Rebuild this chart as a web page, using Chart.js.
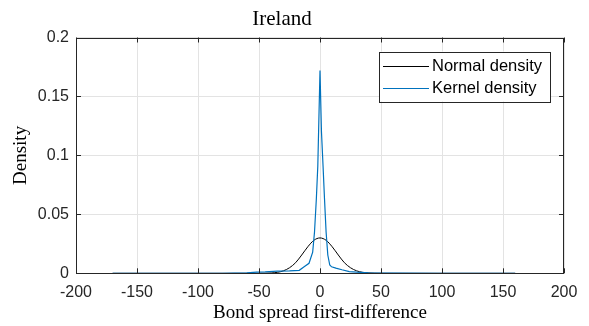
<!DOCTYPE html>
<html>
<head>
<meta charset="utf-8">
<script src="https://cdn.jsdelivr.net/npm/chart.js@4/dist/chart.umd.min.js"></script>
<style>
  html, body { margin: 0; padding: 0; background: #fff; }
  #wrap { width: 589px; height: 326px; }
</style>
</head>
<body>
<div id="wrap"><canvas id="chart" width="589" height="326"></canvas></div>
<script>
// values
const normalX = [-170, -100, -60, -50, -45, -40, -35, -30, -25, -20, -15, -10, -5, 0, 5, 10, 15, 20, 25, 30, 35, 40, 45, 50, 60, 100, 160];
const normalY = [0, 0, 0, 0.00003, 0.0001, 0.0003, 0.0008, 0.0021, 0.0047, 0.009, 0.0155, 0.0225, 0.028, 0.030, 0.028, 0.0225, 0.0155, 0.009, 0.0047, 0.0021, 0.0008, 0.0003, 0.0001, 0.00003, 0, 0, 0];

const kernelX = [-170, -120, -80, -60, -52, -45, -35, -25, -17, -13, -9, -6, -4.5, -3, -1.8, 0, 1.2, 2.5, 3.7, 5, 6.4, 8, 9.5, 13, 18, 24, 30, 40, 60, 100, 160];
const kernelY = [0, 0, 0, 0.0003, 0.001, 0.0012, 0.0018, 0.002, 0.0025, 0.0055, 0.0085, 0.018, 0.035, 0.063, 0.091, 0.172, 0.12, 0.091, 0.063, 0.035, 0.0155, 0.007, 0.0055, 0.0044, 0.003, 0.0015, 0.001, 0.0004, 0.0001, 0, 0];

const xTicks = { min: -200, max: 200, step: 50 };
const yTicks = { min: 0, max: 0.2, step: 0.05 };

const axisColor = '#262626';
const serif = '"Liberation Serif", "DejaVu Serif", serif';
const sans = '"Liberation Sans", Arial, sans-serif';

function toPoints(xs, ys) {
    return xs.map((x, i) => ({ x: x, y: ys[i] }));
}

// box around the axes with inward ticks, MATLAB style
const boxPlugin = {
    id: 'box',
    afterDatasetsDraw(chart) {
        const { ctx, chartArea: a, scales } = chart;
        ctx.save();
        ctx.strokeStyle = axisColor;
        ctx.lineWidth = 1;
        const tl = 5;
        ctx.beginPath();
        scales.x.ticks.forEach(t => {
            const px = Math.round(scales.x.getPixelForValue(t.value)) + 0.5;
            ctx.moveTo(px, a.bottom); ctx.lineTo(px, a.bottom - tl);
            ctx.moveTo(px, a.top); ctx.lineTo(px, a.top + tl);
        });
        scales.y.ticks.forEach(t => {
            const py = Math.round(scales.y.getPixelForValue(t.value)) + 0.5;
            ctx.moveTo(a.left, py); ctx.lineTo(a.left + tl, py);
            ctx.moveTo(a.right, py); ctx.lineTo(a.right - tl, py);
        });
        ctx.stroke();
        ctx.strokeRect(Math.round(a.left) + 0.5, Math.round(a.top) + 0.5,
            Math.round(a.right - a.left) - 1, Math.round(a.bottom - a.top) - 1);
        ctx.restore();
    },
    afterDraw(chart) {
        // legend inside the plot, upper right
        const { ctx, chartArea: a } = chart;
        const w = 171, h = 50;
        const x0 = a.right - 14 - w, y0 = a.top + 14;
        ctx.save();
        ctx.fillStyle = '#fff';
        ctx.fillRect(x0, y0, w, h);
        ctx.strokeStyle = axisColor;
        ctx.lineWidth = 1;
        ctx.strokeRect(Math.round(x0) + 0.5, Math.round(y0) + 0.5, w, h);
        ctx.font = '16.5px ' + sans;
        ctx.textBaseline = 'middle';
        chart.data.datasets.forEach((ds, i) => {
            const cy = Math.round(y0 + 14 + i * 22) + 0.5;
            ctx.strokeStyle = ds.borderColor;
            ctx.beginPath();
            ctx.moveTo(x0 + 4, cy);
            ctx.lineTo(x0 + 50, cy);
            ctx.stroke();
            ctx.fillStyle = '#000';
            ctx.fillText(ds.label, x0 + 53, cy);
        });
        ctx.restore();
    }
};

new Chart(document.getElementById('chart'), {
    type: 'scatter',
    data: {
        datasets: [{
            label: 'Normal density',
            data: toPoints(normalX, normalY),
            showLine: true,
            cubicInterpolationMode: 'monotone',
            borderColor: '#000000',
            borderWidth: 1,
            pointRadius: 0,
            order: 2
        }, {
            label: 'Kernel density',
            data: toPoints(kernelX, kernelY),
            showLine: true,
            borderColor: '#0072BD',
            borderWidth: 1.2,
            pointRadius: 0,
            order: 1
        }]
    },
    options: {
        responsive: false,
        animation: false,
        layout: { padding: { left: 0, right: 25, top: 0, bottom: 0 } },
        plugins: {
            legend: { display: false },
            tooltip: { enabled: false },
            title: {
                display: true,
                text: 'Ireland',
                color: '#000',
                font: { family: serif, size: 21, weight: 'normal' },
                padding: { top: 7, bottom: 5.3 }
            }
        },
        scales: {
            x: {
                type: 'linear',
                min: xTicks.min,
                max: xTicks.max,
                ticks: {
                    stepSize: xTicks.step,
                    color: axisColor,
                    font: { family: sans, size: 16 },
                    padding: 10,
                    maxRotation: 0
                },
                grid: { color: '#e3e3e3', drawTicks: false },
                border: { display: false },
                title: {
                    display: true,
                    text: 'Bond spread first-difference',
                    color: '#000',
                    font: { family: serif, size: 19 },
                    padding: { top: 0, bottom: 2 }
                },
                afterFit(scale) { scale.height = 52.7; }
            },
            y: {
                min: yTicks.min,
                max: yTicks.max,
                ticks: {
                    stepSize: yTicks.step,
                    color: axisColor,
                    font: { family: sans, size: 16 },
                    padding: 7,
                    callback: v => String(Number(v.toFixed(2)))
                },
                grid: { color: '#e3e3e3', drawTicks: false },
                border: { display: false },
                title: {
                    display: true,
                    text: 'Density',
                    color: '#000',
                    font: { family: serif, size: 19 },
                    padding: { top: 10, bottom: 0 }
                },
                afterFit(scale) { scale.width = 76; }
            }
        }
    },
    plugins: [boxPlugin]
});
</script>
</body>
</html>
